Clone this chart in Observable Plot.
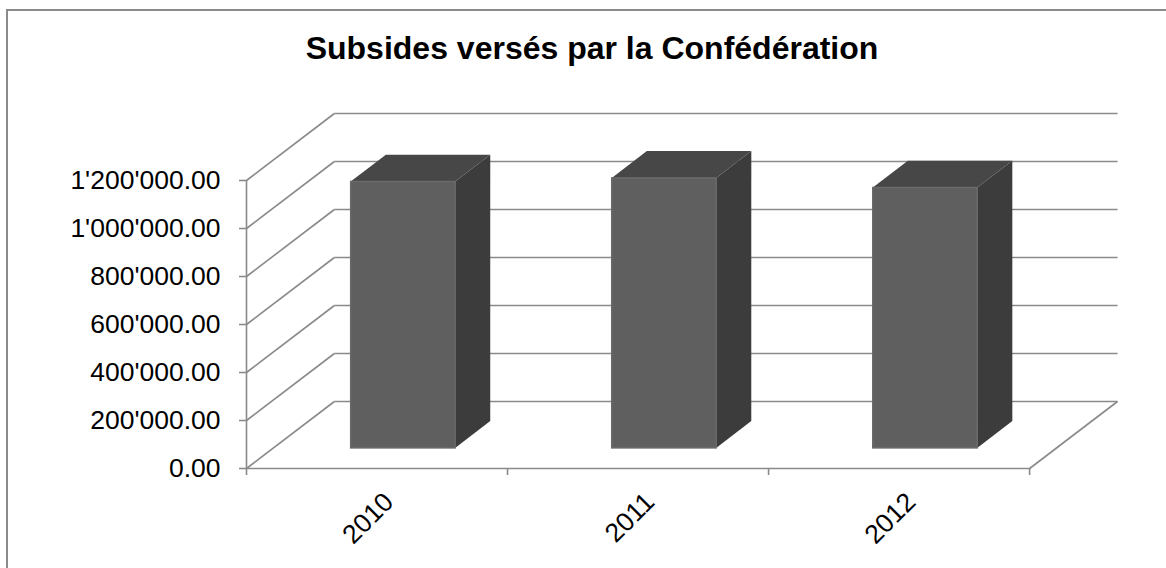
<!DOCTYPE html>
<html>
<head>
<meta charset="utf-8">
<script src="https://cdn.jsdelivr.net/npm/d3@7"></script>
<script src="https://cdn.jsdelivr.net/npm/@observablehq/plot@0.6"></script>
<style>
  html, body { margin: 0; padding: 0; background: #fff; overflow: hidden; }
  #wrap { position: relative; width: 1166px; height: 568px; font-family: "Liberation Sans", Arial, sans-serif; }
  #frame { position: absolute; left: 6px; top: 9px; width: 1200px; height: 600px; border: 2px solid #8a8a8a; box-sizing: border-box; }
  #title { position: absolute; left: 9px; width: 1166px; top: 32px; text-align: center; font-size: 32px; line-height: 1; font-weight: bold; color: #000; }
  #chart { position: absolute; left: 0; top: 0; }
</style>
</head>
<body>
<div id="wrap">
  <div id="frame"></div>
  <div id="chart"></div>
  <div id="title">Subsides versés par la Confédération</div>
</div>
<script>
// ---- data ----
const years = ["2010", "2011", "2012"];
const values = [1110000, 1125000, 1085000];
const yTicks = [0, 200000, 400000, 600000, 800000, 1000000, 1200000];

// ---- oblique depth (in data units) ----
const kx = 0.3367;      // depth shift along x (category units)
const ky = 279167;      // depth shift along y (value units)
const z0 = 0.3, z1 = 0.7; // bar depth span
const b0 = 0.3, b1 = 0.7; // bar span inside band

const fmt = d3.formatLocale({decimal: ".", thousands: "'", grouping: [3], currency: ["", ""]}).format(",.2f");
const gridColor = "#8a8a8a";

const bars = years.map((y, i) => ({year: y, i, v: values[i]}));
const sideFaces = bars.flatMap(d => [
  {year: d.year, x: d.i + b1 + z0 * kx, y1: z0 * ky, y2: d.v + z0 * ky},
  {year: d.year, x: d.i + b1 + z1 * kx, y1: z1 * ky, y2: d.v + z1 * ky}
]);
const topFaces = bars.flatMap(d => [
  {year: d.year, y: d.v + z0 * ky, x1: d.i + b0 + z0 * kx, x2: d.i + b1 + z0 * kx},
  {year: d.year, y: d.v + z1 * ky, x1: d.i + b0 + z1 * kx, x2: d.i + b1 + z1 * kx}
]);

const n = years.length;
const maxTick = yTicks[yTicks.length - 1];

const plot = Plot.plot({
  width: 1166,
  height: 568,
  marginLeft: 246,
  marginRight: 49,
  marginTop: 113,
  marginBottom: 100,
  style: {fontFamily: "Liberation Sans, Arial, sans-serif", background: "transparent", overflow: "visible"},
  x: {type: "linear", domain: [0, n + kx]},
  y: {type: "linear", domain: [0, maxTick + ky]},
  marks: [
    // left wall diagonals
    Plot.link(yTicks, {x1: 0, y1: d => d, x2: kx, y2: d => d + ky, stroke: gridColor, strokeWidth: 1.6}),
    // back wall gridlines
    Plot.link(yTicks, {x1: kx, y1: d => d + ky, x2: n + kx, y2: d => d + ky, stroke: gridColor, strokeWidth: 1.6}),
    // floor front edge and right floor edge
    Plot.link([0], {x1: 0, y1: 0, x2: n, y2: 0, stroke: gridColor, strokeWidth: 1.6}),
    Plot.link([0], {x1: n, y1: 0, x2: n + kx, y2: ky, stroke: gridColor, strokeWidth: 1.6}),
    // y axis line
    Plot.ruleX([0], {y1: 0, y2: maxTick, stroke: gridColor, strokeWidth: 1.6}),
    Plot.axisY({ticks: yTicks, tickSize: 7, tickPadding: 19, tickFormat: fmt, fontSize: 26.5, stroke: gridColor, strokeWidth: 1.6, fill: "#000", label: null, strokeOpacity: 1}),
    // x axis tick marks at band boundaries
    Plot.axisX({ticks: d3.range(n + 1), tickSize: 7, tickFormat: () => "", stroke: gridColor, strokeWidth: 1.6, label: null, strokeOpacity: 1}),
    // x axis labels
    Plot.axisX({ticks: years.map((y, i) => i + 0.5), tickSize: 0, tickPadding: 29, dx: 12, tickRotate: -45, tickFormat: d => years[Math.floor(d)], fontSize: 26.5, fill: "#000", label: null}),
    // bars: side, top, front
    Plot.areaY(sideFaces, {x: "x", y1: "y1", y2: "y2", z: "year", fill: "#3c3c3c"}),
    Plot.areaX(topFaces, {y: "y", x1: "x1", x2: "x2", z: "year", fill: "#474747"}),
    Plot.rect(bars, {x1: d => d.i + b0 + z0 * kx, x2: d => d.i + b1 + z0 * kx, y1: z0 * ky, y2: d => d.v + z0 * ky, fill: "#5f5f5f", stroke: "#6a6a6a", strokeWidth: 1.5})
  ]
});
document.getElementById("chart").appendChild(plot);
</script>
</body>
</html>
